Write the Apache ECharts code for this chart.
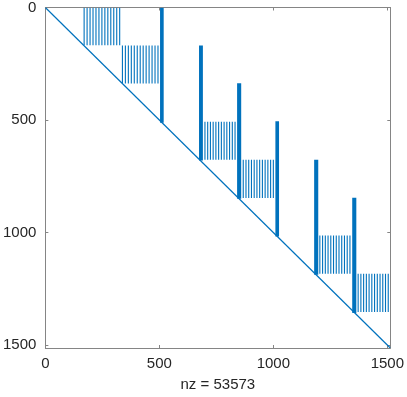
<!DOCTYPE html>
<html>
<head>
<meta charset="utf-8">
<script src="https://cdn.jsdelivr.net/npm/echarts@6/dist/echarts.min.js"></script>
<style>
  html, body { margin: 0; padding: 0; background: #fff; }
  #chart { width: 407px; height: 397px; }
</style>
</head>
<body>
<div id="chart"></div>
<script>
// matrix size (spy plot axes run 0 .. n+1)
const n = 1512;
const nzLabel = 'nz = 53573';
const tickValues = [0, 500, 1000, 1500];

// striped off-diagonal blocks: row range, and the columns that are filled
const stripeRows = [
  [1, 168],
  [169, 338],
  [508, 677],
  [677, 846],
  [1013, 1183],
  [1183, 1353]
];
const stripeCols = [
  [170, 183, 196, 209, 222, 235, 248, 261, 274, 287, 300, 313, 326],
  [338, 351, 364, 377, 390, 403, 416, 429, 442, 455, 468, 481, 494],
  [700, 712, 724, 736, 748, 760, 772, 784, 796, 808, 820, 832],
  [868, 880, 892, 904, 916, 928, 940, 952, 964, 976, 988, 1000],
  [1204, 1216, 1228, 1240, 1252, 1264, 1276, 1288, 1300, 1312, 1324, 1336],
  [1372, 1384, 1396, 1408, 1420, 1432, 1444, 1456, 1468, 1480, 1492, 1504]
];

// dense column bands: [firstCol, lastCol, firstRow, lastRow]
const denseBands = [
  [503, 519, 1, 512],
  [674, 691, 169, 680],
  [841, 859, 337, 850],
  [1009, 1025, 505, 1017],
  [1179, 1197, 677, 1187],
  [1346, 1364, 845, 1357]
];

// main diagonal end points
const diagonal = [[1, 1], [n, n]];

const blue = '#0072BD';

const stripeData = [];
stripeRows.forEach(function (r, i) {
  stripeCols[i].forEach(function (c) {
    stripeData.push([c, r[0], r[1]]);
  });
});

const chart = echarts.init(document.getElementById('chart'));

const axisColor = '#858585';
const textColor = '#262626';
const font = 'Liberation Sans, Arial, Helvetica, sans-serif';

function boxAxis(extra) {
  return Object.assign({
    type: 'value',
    min: 0,
    max: n + 1,
    interval: 500,
    splitLine: { show: false },
    axisLine: { show: true, onZero: false, lineStyle: { color: axisColor, width: 1 } },
    axisTick: { show: true, inside: true, length: 3, lineStyle: { color: axisColor } },
    axisLabel: { show: false }
  }, extra);
}

const option = {
  animation: false,
  grid: { left: 44, top: 6, width: 348, height: 347, containLabel: false },
  xAxis: [
    boxAxis({
      position: 'bottom',
      name: nzLabel,
      nameLocation: 'middle',
      nameGap: 29,
      nameTextStyle: { color: textColor, fontSize: 15, fontFamily: font },
      axisLabel: {
        show: true, color: textColor, fontSize: 15, fontFamily: font, margin: 8,
        showMaxLabel: false,
        formatter: function (v) { return tickValues.indexOf(v) >= 0 ? String(v) : ''; }
      }
    }),
    boxAxis({ position: 'top' })
  ],
  yAxis: [
    boxAxis({
      position: 'left',
      inverse: true,
      axisLabel: {
        show: true, color: textColor, fontSize: 15, fontFamily: font, margin: 9,
        showMaxLabel: false,
        formatter: function (v) { return tickValues.indexOf(v) >= 0 ? String(v) : ''; }
      }
    }),
    boxAxis({ position: 'right', inverse: true })
  ],
  series: [
    {
      type: 'custom',
      coordinateSystem: 'cartesian2d',
      data: stripeData,
      encode: { x: 0, y: [1, 2] },
      clip: true,
      renderItem: function (params, api) {
        const p0 = api.coord([api.value(0), api.value(1)]);
        const p1 = api.coord([api.value(0), api.value(2)]);
        return {
          type: 'line',
          shape: { x1: p0[0], y1: p0[1], x2: p1[0], y2: p1[1] },
          style: { stroke: blue, lineWidth: 1.1 }
        };
      }
    },
    {
      type: 'custom',
      coordinateSystem: 'cartesian2d',
      data: denseBands,
      encode: { x: [0, 1], y: [2, 3] },
      clip: true,
      renderItem: function (params, api) {
        const p0 = api.coord([api.value(0), api.value(2)]);
        const p1 = api.coord([api.value(1), api.value(3)]);
        return {
          type: 'rect',
          shape: { x: p0[0], y: p0[1], width: p1[0] - p0[0], height: p1[1] - p0[1] },
          style: { fill: blue }
        };
      }
    },
    {
      type: 'line',
      data: diagonal,
      symbol: 'none',
      lineStyle: { color: blue, width: 1.2 },
      silent: true
    }
  ]
};

chart.setOption(option);
</script>
</body>
</html>
